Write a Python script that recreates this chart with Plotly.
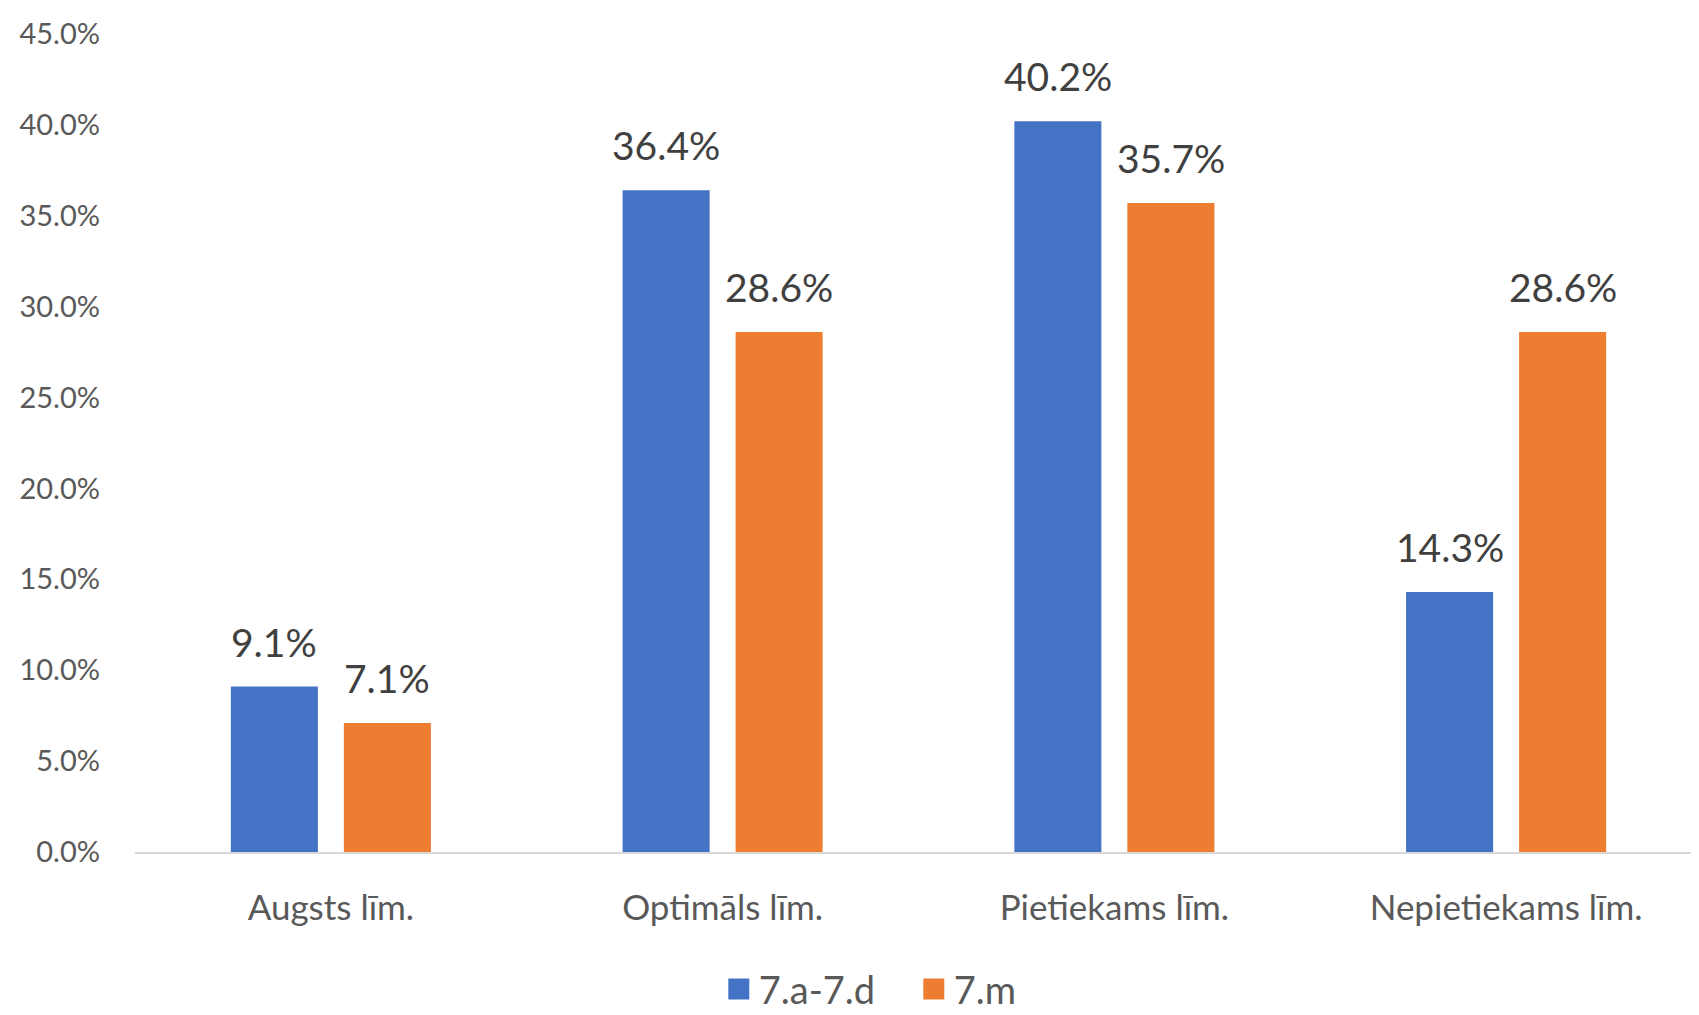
import plotly.graph_objects as go

# data
categories = ['Augsts līm.', 'Optimāls līm.', 'Pietiekams līm.', 'Nepietiekams līm.']
series_names = ['7.a-7.d', '7.m']
vals_7ad = [0.091, 0.364, 0.402, 0.143]
vals_7m = [0.071, 0.286, 0.357, 0.286]
y_ticks = [0, 0.05, 0.10, 0.15, 0.20, 0.25, 0.30, 0.35, 0.40, 0.45]

colors = {'7.a-7.d': '#4472C4', '7.m': '#ED7D31'}
font_family = 'Lato, Open Sans, sans-serif'
bargap = 0.423

fig = go.Figure()
for k, (name, vals) in enumerate(zip(series_names, [vals_7ad, vals_7m])):
    fig.add_trace(go.Bar(name=name,
                         x=categories,
                         y=vals,
                         marker=dict(color=colors[name], line=dict(width=0)),
                         legendgroup=name,
                         showlegend=False,
                         hoverinfo='x+y'))
    # bigger legend squares than the default bar symbol (size capped at 16, outline adds the rest)
    fig.add_trace(go.Scatter(name=name, x=[None], y=[None], mode='markers',
                             marker=dict(symbol='square', size=16, color=colors[name],
                                         line=dict(width=5, color=colors[name])),
                             legendgroup=name, hoverinfo='skip'))
    # data labels sit a bit higher above the bars than plotly's outside text
    offset = (k - 0.5) * (1 - bargap) / 2
    for i, v in enumerate(vals):
        fig.add_annotation(x=i + offset, y=v, text=f'{v:.1%}', showarrow=False,
                           xref='x', yref='y', yanchor='bottom', yshift=20,
                           font=dict(size=39, color='#404040', family=font_family))

# page body has an 8px margin, so the layout is shifted up/left by that much
fig.update_layout(
    width=1699, height=1015,
    margin=dict(l=127, r=5, t=26, b=171, autoexpand=False),
    plot_bgcolor='white', paper_bgcolor='white',
    barmode='group', bargap=bargap, bargroupgap=0.23,
    font=dict(family=font_family, color='#595959'),
    showlegend=True,
    legend=dict(orientation='h', x=0.497, xanchor='center', y=-0.168, yanchor='middle',
                font=dict(size=38, color='#595959'), itemwidth=30,
                entrywidth=150, entrywidthmode='pixels'),
)
fig.update_xaxes(range=[-0.5, 3.5], showgrid=False, showline=True, linecolor='#D9D9D9', linewidth=2,
                 ticks='', tickfont=dict(size=35, color='#595959'), ticklabelstandoff=24,
                 zeroline=False, automargin=False)
fig.update_yaxes(range=[0, 0.45], tickvals=y_ticks, tickformat='.1%', showgrid=False, zeroline=False,
                 showline=False, ticks='', tickfont=dict(size=29, color='#595959'), ticklabelstandoff=34,
                 automargin=False)

fig.write_html('out.html')
